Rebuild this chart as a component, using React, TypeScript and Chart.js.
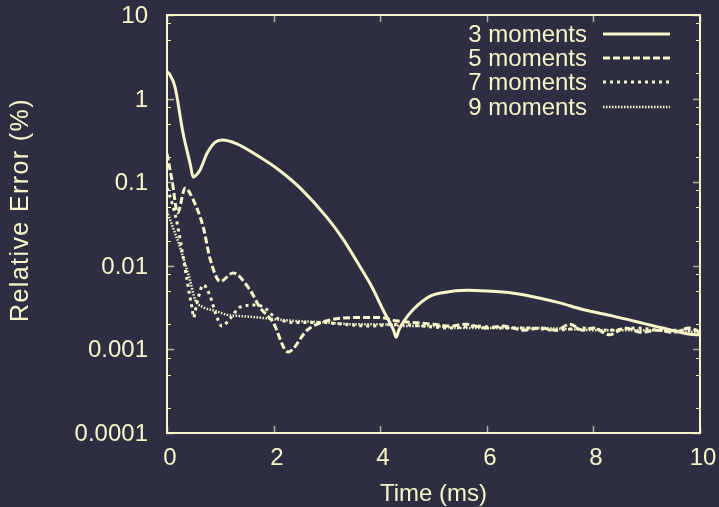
import React, { useEffect, useRef } from "react";
import { Chart, registerables } from "chart.js";

Chart.register(...registerables);

const BG = "#2d2e42";
const FG = "#f6f6c9";
const TICK = "#b4b49c";
const FONT = "'Liberation Sans', Arial, Helvetica, sans-serif";

const seriesNames = ["3 moments", "5 moments", "7 moments", "9 moments"];

const t3 = [0, 0.05, 0.15, 0.3, 0.44, 0.49, 0.55, 0.62, 0.75, 0.9, 1.03, 1.3, 1.74, 2.1, 2.5, 3.0, 3.3, 3.62, 3.85, 4.05, 4.25, 4.3, 4.35, 4.45, 4.62, 4.93, 5.2, 5.63, 6.0, 6.5, 7.0, 7.37, 7.8, 8.37, 8.87, 9.3, 9.94, 10];
const e3 = [2.1, 1.95, 1.38, 0.39, 0.16, 0.115, 0.122, 0.14, 0.22, 0.3, 0.32, 0.29, 0.2, 0.14, 0.085, 0.038, 0.021, 0.0098, 0.0055, 0.003, 0.0017, 0.0014, 0.0017, 0.0022, 0.003, 0.0043, 0.0048, 0.0051, 0.005, 0.0047, 0.0041, 0.0036, 0.003, 0.0025, 0.0021, 0.0018, 0.0015, 0.0015];

const t5 = [0, 0.1, 0.2, 0.34, 0.49, 0.68, 0.81, 1.0, 1.24, 1.56, 1.74, 1.99, 2.27, 2.63, 3.0, 3.5, 4.0, 4.3, 4.6, 5.0, 5.3, 5.6, 6.0, 6.3, 6.7, 7.0, 7.3, 7.56, 7.8, 8.0, 8.3, 8.6, 8.9, 9.2, 9.5, 9.8, 10];
const e5 = [0.22, 0.1, 0.043, 0.085, 0.062, 0.029, 0.012, 0.0065, 0.0082, 0.0051, 0.0032, 0.0021, 0.00093, 0.0017, 0.0022, 0.0024, 0.0024, 0.0022, 0.0021, 0.002, 0.0019, 0.002, 0.0018, 0.0019, 0.0017, 0.0018, 0.0017, 0.002, 0.0017, 0.0018, 0.0015, 0.0018, 0.0016, 0.0017, 0.0016, 0.0018, 0.0016];

const t7 = [0, 0.1, 0.2, 0.3, 0.4, 0.47, 0.5, 0.53, 0.58, 0.68, 0.8, 0.92, 1.03, 1.2, 1.37, 1.69, 1.87, 2.0, 2.37, 2.87, 3.3, 3.8, 4.3, 4.8, 5.3, 5.8, 6.3, 6.8, 7.3, 7.8, 8.3, 8.8, 9.3, 9.8, 10];
const e7 = [0.085, 0.055, 0.03, 0.013, 0.0055, 0.0031, 0.0024, 0.0029, 0.004, 0.0059, 0.0045, 0.0026, 0.0019, 0.0024, 0.0032, 0.0034, 0.003, 0.0025, 0.0021, 0.0021, 0.002, 0.0019, 0.002, 0.0019, 0.0018, 0.0019, 0.0018, 0.0018, 0.0017, 0.0018, 0.0017, 0.0018, 0.0017, 0.0017, 0.0017];

const t9 = [0, 0.1, 0.24, 0.35, 0.43, 0.53, 0.68, 0.9, 1.12, 1.4, 1.74, 2.0, 2.37, 3.0, 3.5, 4.0, 4.5, 5.0, 5.5, 6.0, 7.0, 8.0, 9.0, 10];
const e9 = [0.045, 0.03, 0.017, 0.01, 0.0068, 0.0039, 0.0032, 0.0029, 0.0026, 0.0025, 0.0024, 0.0023, 0.0022, 0.0021, 0.002, 0.002, 0.0019, 0.0019, 0.0018, 0.0018, 0.0018, 0.0017, 0.0017, 0.0016];

const xTicks = [0, 2, 4, 6, 8, 10];
const xTickLabels = ["0", "2", "4", "6", "8", "10"];
const yTicks = [0.0001, 0.001, 0.01, 0.1, 1, 10];
const yTickLabels = ["0.0001", "0.001", "0.01", "0.1", "1", "10"];
const yMinorMultipliers = [2, 5, 8];

const xTitle = "Time (ms)";
const yTitle = "Relative Error (%)";

const dashes: number[][] = [[], [7, 3], [3, 4], [1.5, 1.5]];
const widths = [3, 3, 3, 2.5];

function pts(t: number[], e: number[]) {
  return t.map((x, i) => ({ x, y: e[i] }));
}

const framePlugin = {
  id: "frame",
  beforeDraw(chart: any) {
    const { ctx, width, height } = chart;
    ctx.save();
    ctx.fillStyle = BG;
    ctx.fillRect(0, 0, width, height);
    ctx.restore();
  },
  afterDraw(chart: any) {
    const { ctx, chartArea: a, scales } = chart;
    ctx.save();
    ctx.setLineDash([]);
    ctx.font = `24px ${FONT}`;
    xTicks.forEach((v, i) => {
      const px = Math.round(scales.x.getPixelForValue(v)) + 0.5;
      ctx.strokeStyle = TICK;
      ctx.lineWidth = 1.5;
      ctx.beginPath();
      ctx.moveTo(px, a.bottom);
      ctx.lineTo(px, a.bottom - 7);
      ctx.moveTo(px, a.top);
      ctx.lineTo(px, a.top + 7);
      ctx.stroke();
      ctx.fillStyle = FG;
      ctx.textAlign = "center";
      ctx.textBaseline = "middle";
      ctx.fillText(xTickLabels[i], px + 2.5, a.bottom + 25);
    });
    yTicks.forEach((v, i) => {
      const py = Math.round(scales.y.getPixelForValue(v)) + 0.5;
      ctx.strokeStyle = TICK;
      ctx.lineWidth = 1.5;
      ctx.beginPath();
      ctx.moveTo(a.left, py);
      ctx.lineTo(a.left + 7, py);
      ctx.moveTo(a.right, py);
      ctx.lineTo(a.right - 7, py);
      ctx.stroke();
      ctx.fillStyle = FG;
      ctx.textAlign = "right";
      ctx.textBaseline = "middle";
      ctx.fillText(yTickLabels[i], 148, py + 1);
      if (i < yTicks.length - 1) {
        for (const m of yMinorMultipliers) {
          const my = Math.round(scales.y.getPixelForValue(m * v)) + 0.5;
          ctx.strokeStyle = FG;
          ctx.lineWidth = 1;
          ctx.beginPath();
          ctx.moveTo(a.left, my);
          ctx.lineTo(a.left + 4, my);
          ctx.moveTo(a.right, my);
          ctx.lineTo(a.right - 4, my);
          ctx.stroke();
        }
      }
    });
    ctx.strokeStyle = FG;
    ctx.lineWidth = 2;
    ctx.strokeRect(a.left, a.top, a.right - a.left, a.bottom - a.top);

    ctx.fillStyle = FG;
    ctx.font = `24px ${FONT}`;
    ctx.textAlign = "center";
    ctx.textBaseline = "middle";
    ctx.fillText(xTitle, (a.left + a.right) / 2, 494);
    ctx.save();
    ctx.translate(21, 210);
    ctx.rotate(-Math.PI / 2);
    ctx.font = `25px ${FONT}`;
    try {
      (ctx as any).letterSpacing = "1.4px";
    } catch (e) {}
    ctx.fillText(yTitle, 0, 0);
    ctx.restore();

    const rowY = [35, 59, 83, 108];
    chart.data.datasets.forEach((ds: any, i: number) => {
      ctx.fillStyle = FG;
      ctx.textAlign = "right";
      ctx.textBaseline = "middle";
      ctx.font = `24px ${FONT}`;
      ctx.fillText(seriesNames[i], 587, rowY[i]);
      ctx.strokeStyle = FG;
      ctx.lineWidth = widths[i];
      ctx.setLineDash(dashes[i]);
      ctx.beginPath();
      ctx.moveTo(603, rowY[i] - 1);
      ctx.lineTo(670, rowY[i] - 1);
      ctx.stroke();
    });
    ctx.restore();
  },
};

export default function App() {
  const ref = useRef<HTMLCanvasElement | null>(null);
  useEffect(() => {
    document.body.style.background = BG;
    const canvas = ref.current;
    if (!canvas) return;
    const series = [pts(t3, e3), pts(t5, e5), pts(t7, e7), pts(t9, e9)];
    const chart = new Chart(canvas, {
      type: "line",
      data: {
        datasets: series.map((data, i) => ({
          label: seriesNames[i],
          data,
          borderColor: FG,
          borderWidth: widths[i],
          borderDash: dashes[i],
          pointRadius: 0,
          fill: false,
          cubicInterpolationMode: "monotone" as const,
        })),
      },
      options: {
        responsive: false,
        animation: false,
        parsing: false as any,
        layout: { padding: { left: 0, top: 15, right: 19, bottom: 0 } },
        plugins: { legend: { display: false }, tooltip: { enabled: false } },
        scales: {
          x: {
            type: "linear",
            min: 0,
            max: 10,
            afterBuildTicks: (s: any) => {
              s.ticks = xTicks.map((v) => ({ value: v }));
            },
            afterFit: (s: any) => {
              s.height = 74;
            },
            ticks: { display: false, padding: 0 },
            grid: { display: false, drawTicks: false },
            border: { display: false },
          },
          y: {
            type: "logarithmic",
            min: 0.0001,
            max: 10,
            afterBuildTicks: (s: any) => {
              s.ticks = yTicks.map((v) => ({ value: v }));
            },
            afterFit: (s: any) => {
              s.width = 167;
            },
            ticks: { display: false, padding: 0 },
            grid: { display: false, drawTicks: false },
            border: { display: false },
          },
        },
      },
      plugins: [framePlugin],
    });
    return () => chart.destroy();
  }, []);
  return (
    <div style={{ position: "fixed", left: 0, top: 0, width: 719, height: 507, background: BG }}>
      <canvas ref={ref} width={719} height={507} style={{ width: 719, height: 507, display: "block" }} />
    </div>
  );
}
